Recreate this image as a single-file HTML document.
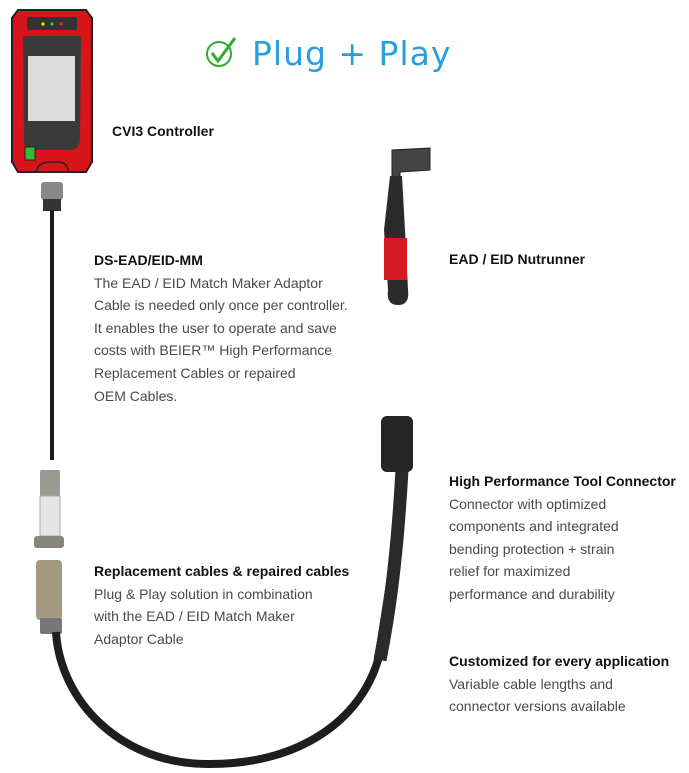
<!DOCTYPE html>
<html><head><style>
body{margin:0;width:689px;height:773px;background:#fff;position:relative;overflow:hidden;font-family:"Liberation Sans",sans-serif}
.t{position:absolute;font-size:14px;color:#4a4a4a;line-height:22.6px;white-space:nowrap}
.t b{color:#111;font-size:14px}
</style></head><body>
<svg width="689" height="773" style="position:absolute;left:0;top:0">
<!-- controller -->
<path d="M18 10 H86 L92 18 V162 L86 172 H18 L12 162 V18 Z" fill="#d8141b" stroke="#222" stroke-width="2"/>
<rect x="27" y="17" width="50" height="13" rx="2" fill="#333"/>
<circle cx="43" cy="24" r="1.6" fill="#ee0"/><circle cx="52" cy="24" r="1.6" fill="#3c3"/><circle cx="61" cy="24" r="1.6" fill="#f22"/>
<path d="M26 36 H78 Q82 36 81 42 L80 140 Q79 150 70 150 H34 Q24 150 24 140 L23 42 Q22 36 26 36Z" fill="#3a3a3a"/>
<rect x="28" y="56" width="47" height="65" fill="#dcdcdc"/>
<rect x="25" y="147" width="10" height="13" fill="#3b3" stroke="#222"/>
<path d="M36 172 Q38 162 50 162 H58 Q68 162 68 172Z" fill="#d8141b" stroke="#222" stroke-width="1.5"/>
<!-- adapter cable -->
<rect x="41" y="182" width="22" height="18" rx="3" fill="#888"/>
<rect x="43" y="199" width="18" height="12" fill="#333"/>
<path d="M52 210 V460" stroke="#1c1c1c" stroke-width="4"/>
<rect x="40" y="470" width="20" height="28" rx="2" fill="#9a9a90"/>
<rect x="40" y="496" width="20" height="40" fill="#e6e6e6" stroke="#aaa"/>
<rect x="34" y="536" width="30" height="12" rx="3" fill="#8a857a"/>
<rect x="36" y="560" width="26" height="60" rx="4" fill="#a49a84"/>
<rect x="40" y="618" width="22" height="16" rx="2" fill="#777"/>
<!-- main cable -->
<path d="M56 632 C60 700 120 765 210 764 C300 764 360 720 378 660 L400 520" fill="none" stroke="#1e1e1e" stroke-width="8"/>
<path d="M380 660 C392 600 398 540 402 470" fill="none" stroke="#2a2a2a" stroke-width="13"/>
<rect x="381" y="416" width="32" height="56" rx="6" fill="#262626"/>
<!-- nutrunner -->
<path d="M392 150 L430 148 V170 L400 172 V178 L392 178 Z" fill="#444" stroke="#222"/>
<path d="M390 176 H402 L405 230 L408 290 Q410 305 398 305 Q386 305 388 290 L384 230 Z" fill="#2b2b2b"/>
<rect x="384" y="238" width="23" height="42" fill="#d41b22"/>
<!-- check -->
<circle cx="219" cy="54" r="12" fill="none" stroke="#3a3" stroke-width="2"/>
<path d="M212 53 L218 61 L235 38" fill="none" stroke="#3a3" stroke-width="3"/>
</svg>
<div style="position:absolute;left:252px;top:34px;font-size:33px;color:#2a9fe0;font-family:'DejaVu Sans',sans-serif;letter-spacing:1px">Plug + Play</div>
<div class="t" style="left:112px;top:120px"><b>CVI3 Controller</b></div>
<div class="t" style="left:94px;top:249px"><b>DS-EAD/EID-MM</b><br>The EAD / EID Match Maker Adaptor<br>Cable is needed only once per controller.<br>It enables the user to operate and save<br>costs with BEIER™ High Performance<br>Replacement Cables or repaired<br>OEM Cables.</div>
<div class="t" style="left:94px;top:560px"><b>Replacement cables &amp; repaired cables</b><br>Plug &amp; Play solution in combination<br>with the EAD / EID Match Maker<br>Adaptor Cable</div>
<div class="t" style="left:449px;top:248px"><b>EAD / EID Nutrunner</b></div>
<div class="t" style="left:449px;top:470px"><b>High Performance Tool Connector</b><br>Connector with optimized<br>components and integrated<br>bending protection + strain<br>relief for maximized<br>performance and durability</div>
<div class="t" style="left:449px;top:650px"><b>Customized for every application</b><br>Variable cable lengths and<br>connector versions available</div>
</body></html>
